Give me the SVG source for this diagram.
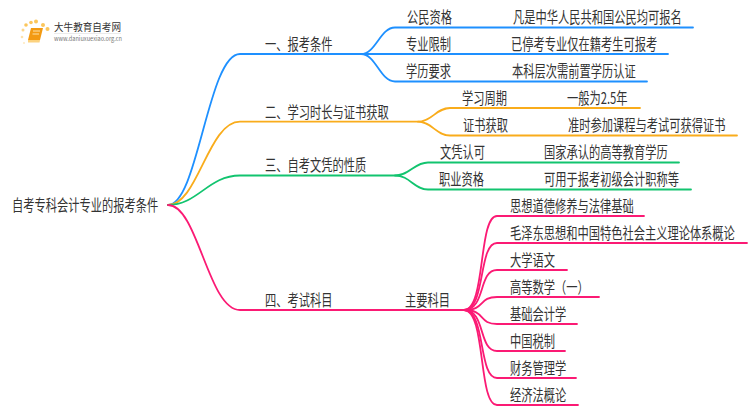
<svg xmlns="http://www.w3.org/2000/svg" width="750" height="410" viewBox="0 0 750 410">
<style>
text{font-family:"Noto Sans CJK SC","Liberation Sans",sans-serif;font-size:15.500px;fill:#333}
.c{fill:none;stroke-width:1.800;stroke-linecap:round}
.b{stroke:#1e90ff}.o{stroke:#f9ac1b}.g{stroke:#12c46f}.p{stroke:#fb1a74}
</style>
<rect width="750" height="410" fill="#fff"/>
<g id="connectors">
<path class="c b" d="M168 205C198 205 208 54 240 54H361C376 54 380 27.500 395 27.500H693"/>
<path class="c b" d="M361 54H668"/>
<path class="c b" d="M361 54C376 54 380 81.500 395 81.500H647"/>
<path class="c o" d="M168 205C198 205 208 121.700 240 121.700H418C432 121.700 436 108 450 108H640"/>
<path class="c o" d="M418 121.700C432 121.700 436 135.500 450 135.500H737"/>
<path class="c g" d="M168 205C198 205 208 175.500 240 175.500H395C410 175.500 414 162.500 428 162.500H679"/>
<path class="c g" d="M395 175.500C410 175.500 414 189.500 428 189.500H691"/>
<path class="c p" d="M168 205C198 205 208 310 240 310H464"/>
<path class="c p" d="M464 310C486 310 478 216 497 216H644"/>
<path class="c p" d="M464 310C486 310 478 243 497 243H747"/>
<path class="c p" d="M464 310C486 310 478 270 497 270H567"/>
<path class="c p" d="M464 310C486 310 478 297 497 297H599"/>
<path class="c p" d="M464 310C486 310 478 324 497 324H577"/>
<path class="c p" d="M464 310C486 310 478 351 497 351H565"/>
<path class="c p" d="M464 310C486 310 478 378 497 378H576"/>
<path class="c p" d="M464 310C486 310 478 405 497 405H578"/>
</g>
<g id="logo">
<g fill="#fbc65c">
<circle cx="36" cy="21.500" r="2"/><circle cx="26" cy="25" r="1.800"/><circle cx="31" cy="22.500" r="1.800"/><circle cx="43" cy="25" r="2"/><circle cx="47.500" cy="29" r="2"/>
<circle cx="23" cy="30" r="1.500" opacity=".7"/><circle cx="22" cy="37" r="1.300" opacity=".5"/><circle cx="24" cy="43" r="1" opacity=".4"/>
</g>
<path d="M31 28H43L40 40H28Z" fill="#f39a12"/>
<path d="M28 40H40L39.500 42.500H28Z" fill="#fcd27e"/>
<path d="M33 31H40M32.500 34H39" stroke="#fde2a8" stroke-width="1" fill="none"/>
<text x="54" y="31" textLength="67" lengthAdjust="spacingAndGlyphs" style="font-size:10px">大牛教育自考网</text>
<path d="M54 33.500H121" stroke="#ddd" stroke-width=".6"/>
<text x="54" y="41" textLength="68" lengthAdjust="spacingAndGlyphs" style="font-size:6.500px;fill:#777">www.daniuxuexiao.org.cn</text>
</g>
<g id="root"><text transform="translate(12 211) scale(.726 1)">自考专科会计专业的报考条件</text></g>
<g id="n1"><text transform="translate(265 50) scale(.726 1)">一、报考条件</text></g>
<g id="n1a"><text transform="translate(407 23) scale(.726 1)">公民资格</text></g>
<g id="n1a1"><text transform="translate(513 23) scale(.726 1)">凡是中华人民共和国公民均可报名</text></g>
<g id="n1b"><text transform="translate(406 50) scale(.726 1)">专业限制</text></g>
<g id="n1b1"><text transform="translate(511 50) scale(.726 1)">已停考专业仅在籍考生可报考</text></g>
<g id="n1c"><text transform="translate(406 77) scale(.726 1)">学历要求</text></g>
<g id="n1c1"><text transform="translate(512 77) scale(.726 1)">本科层次需前置学历认证</text></g>
<g id="n2"><text transform="translate(265 117.500) scale(.726 1)">二、学习时长与证书获取</text></g>
<g id="n2a"><text transform="translate(462 104) scale(.726 1)">学习周期</text></g>
<g id="n2a1"><text transform="translate(567 104) scale(.726 1)">一般为2.5年</text></g>
<g id="n2b"><text transform="translate(463 131) scale(.726 1)">证书获取</text></g>
<g id="n2b1"><text transform="translate(568 131) scale(.726 1)">准时参加课程与考试可获得证书</text></g>
<g id="n3"><text transform="translate(265 171) scale(.726 1)">三、自考文凭的性质</text></g>
<g id="n3a"><text transform="translate(440 158) scale(.726 1)">文凭认可</text></g>
<g id="n3a1"><text transform="translate(544 158) scale(.726 1)">国家承认的高等教育学历</text></g>
<g id="n3b"><text transform="translate(439 185) scale(.726 1)">职业资格</text></g>
<g id="n3b1"><text transform="translate(544 185) scale(.726 1)">可用于报考初级会计职称等</text></g>
<g id="n4"><text transform="translate(265 306) scale(.726 1)">四、考试科目</text></g>
<g id="n4a"><text transform="translate(405 306) scale(.726 1)">主要科目</text></g>
<g id="s1"><text transform="translate(510 212) scale(.726 1)">思想道德修养与法律基础</text></g>
<g id="s2"><text transform="translate(510 239) scale(.726 1)">毛泽东思想和中国特色社会主义理论体系概论</text></g>
<g id="s3"><text transform="translate(510 266) scale(.726 1)">大学语文</text></g>
<g id="s4"><text transform="translate(510 293) scale(.726 1)">高等数学（一）</text></g>
<g id="s5"><text transform="translate(510 320) scale(.726 1)">基础会计学</text></g>
<g id="s6"><text transform="translate(510 347) scale(.726 1)">中国税制</text></g>
<g id="s7"><text transform="translate(510 374) scale(.726 1)">财务管理学</text></g>
<g id="s8"><text transform="translate(510 401) scale(.726 1)">经济法概论</text></g>
</svg>
